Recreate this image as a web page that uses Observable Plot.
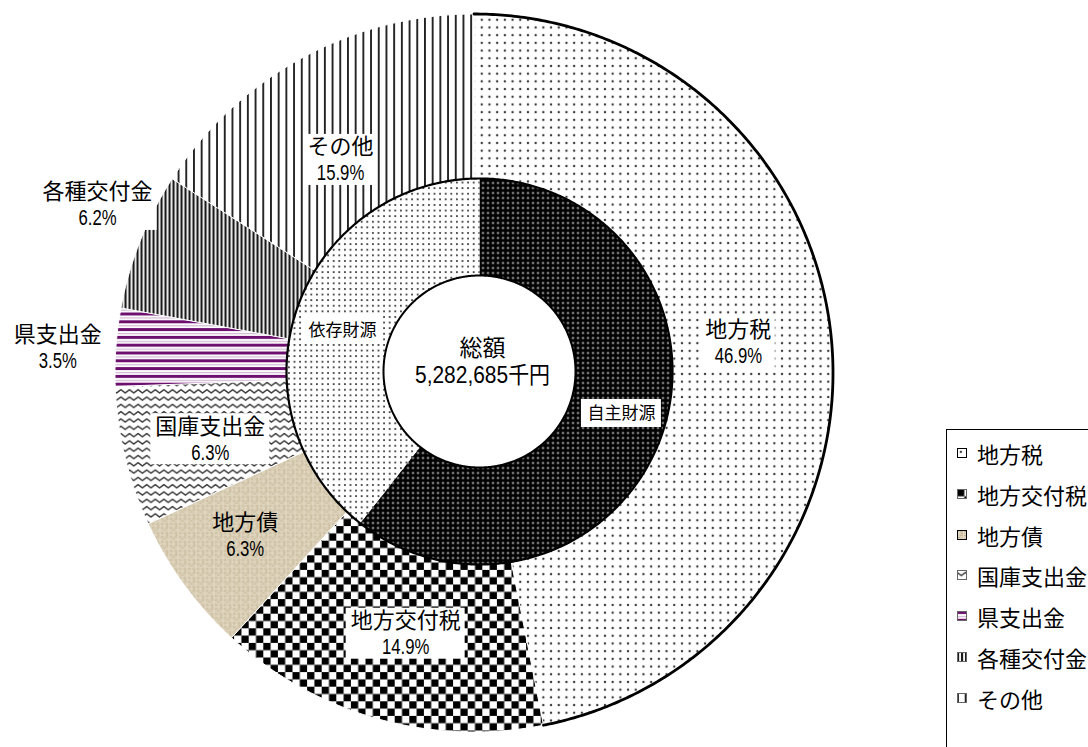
<!DOCTYPE html>
<html><head><meta charset="utf-8">
<script src="https://cdn.jsdelivr.net/npm/d3@7"></script>
<script src="https://cdn.jsdelivr.net/npm/@observablehq/plot@0.6"></script>
<style>
html,body{margin:0;padding:0;background:#fff;}
body{width:1088px;height:747px;overflow:hidden;position:relative;}
#chart{position:absolute;left:0;top:0;}
#legend{position:absolute;left:946px;top:429px;width:240px;height:400px;border:1px solid #000;background:#fff;box-sizing:border-box;}
.item{position:absolute;left:10px;height:26px;display:flex;align-items:center;font-family:"Noto Sans CJK JP",sans-serif;font-size:22px;color:#000;white-space:nowrap;}
.item svg{margin-right:10px;}
</style></head>
<body><div id="chart"></div><div id="legend"></div>
<script>
// ---- data ----
const categories = ["地方税","地方交付税","地方債","国庫支出金","県支出金","各種交付金","その他"];
const shares = [46.9, 14.9, 6.3, 6.3, 3.5, 6.2, 15.9];
const groups = ["自主財源","依存財源"];
const groupShares = [60.6, 39.4];
const centerTitle = "総額";
const centerValue = "5,282,685千円";

// ---- layout ----
const W = 1088, H = 747;
const OC = {x: 473.5, y: 372.5}, R = 359;
const IC = {x: 479, y: 371}, RI = 193, RH = 96;
const patterns = ["p-chihozei","p-kofuzei","p-chihosai","p-kokko","p-ken","p-kakushu","p-sonota"];
const groupPatterns = ["p-jishu","p-izon"];
const outerLabelR = [266, 270, 281, 272, 417, 412, 251];
const outerLabelDA = [-0.8, -1.0, 0.7, -0.7, -0.7, 2.4, -3.5];
const outerBoxed = [true, true, false, true, false, true, true];
const innerLabelR = [148, 143];
const innerLabelDA = [-2.6, -2.4];
const JP = '"Noto Sans CJK JP", sans-serif';
const NUM = '"Liberation Sans", "Noto Sans CJK JP", sans-serif';
const PCT_SIZE = 22, PCT_SQUEEZE = 0.76, CENTER_SQUEEZE = 0.91;
const rad = d => d * Math.PI / 180;

const pie = d3.pie().sort(null).startAngle(0).endAngle(2 * Math.PI);
const arcsO = pie(shares);
const arcsI = pie(groupShares);

function pt(c, r, a) { return {x: c.x + r * Math.sin(a), y: c.y - r * Math.cos(a)}; }
function arcPts(c, r, a0, a1) {
  const n = Math.max(2, Math.ceil(Math.abs(a1 - a0) / (Math.PI / 360)));
  return d3.range(n + 1).map(i => pt(c, r, a0 + (a1 - a0) * i / n));
}

const outerPoly = arcsO.flatMap((a, i) =>
  [pt(OC, 0, 0), ...arcPts(OC, R, a.startAngle, a.endAngle)]
    .map(p => ({...p, key: categories[i], pat: `url(#${patterns[i]})`})));
const innerPoly = arcsI.flatMap((a, i) =>
  [...arcPts(IC, RI, a.startAngle, a.endAngle), ...arcPts(IC, RH, a.endAngle, a.startAngle)]
    .map(p => ({...p, key: groups[i], pat: `url(#${groupPatterns[i]})`})));
const taxArc = arcPts(OC, R, arcsO[0].startAngle, arcsO[0].endAngle);
const ringCircle = arcPts(IC, RI, 0, 2 * Math.PI);
const holeCircle = arcPts(IC, RH, 0, 2 * Math.PI);

// text measurement
const ctx = document.createElement("canvas").getContext("2d");
function tw(s, font, ls) { ctx.font = font; return ctx.measureText(s).width + ls * s.length; }

// label positions
const outerLabels = arcsO.map((a, i) => {
  const p = pt(OC, outerLabelR[i], (a.startAngle + a.endAngle) / 2 + rad(outerLabelDA[i]));
  return {...p, name: categories[i], pct: shares[i].toFixed(1) + "%", boxed: outerBoxed[i]};
});
const innerLabels = arcsI.map((a, i) => {
  const p = pt(IC, innerLabelR[i], (a.startAngle + a.endAngle) / 2 + rad(innerLabelDA[i]));
  return {...p, name: groups[i]};
});
const cx = IC.x + 3;
const centerTitleD = [{x: cx, y: IC.y - 23, t: centerTitle}];
const centerValueD = [{x: cx, y: IC.y + 4, t: centerValue}];

const outerBoxes = outerLabels.filter(d => d.boxed).map(d => {
  const w = Math.max(tw(d.name, `22px ${JP}`, 0.6), tw(d.pct, `${PCT_SIZE}px ${NUM}`, 0) * PCT_SQUEEZE) + 6;
  return {x1: d.x - w / 2, x2: d.x + w / 2, y1: d.y - 26, y2: d.y + 25};
});
const innerBoxes = innerLabels.map(d => {
  const w = tw(d.name, `17px ${JP}`, 1.5) + 6;
  return {x1: d.x - w / 2, x2: d.x + w / 2, y1: d.y - 14, y2: d.y + 14};
});

const svg = Plot.plot({
  width: W, height: H, margin: 0,
  x: {domain: [0, W], range: [0, W], axis: null},
  y: {domain: [0, H], range: [0, H], axis: null},
  color: {type: "identity"},
  marks: [
    Plot.line(outerPoly, {x: "x", y: "y", z: "key", fill: "pat", stroke: "white", strokeWidth: 1, curve: "linear-closed"}),
    Plot.line(taxArc, {x: "x", y: "y", stroke: "black", strokeWidth: 2.8}),
    Plot.line(innerPoly, {x: "x", y: "y", z: "key", fill: "pat", stroke: "none", curve: "linear-closed"}),
    Plot.line(ringCircle, {x: "x", y: "y", stroke: "black", strokeWidth: 2.2, curve: "linear-closed"}),
    Plot.line(holeCircle, {x: "x", y: "y", fill: "white", stroke: "black", strokeWidth: 2, curve: "linear-closed"}),
    Plot.rect(outerBoxes, {x1: "x1", x2: "x2", y1: "y1", y2: "y2", fill: "white"}),
    Plot.rect(innerBoxes, {x1: "x1", x2: "x2", y1: "y1", y2: "y2", fill: "white"}),
    Plot.text(outerLabels, {x: "x", y: "y", text: "name", dy: -13, fontSize: 22, fontFamily: JP, fill: "black", letterSpacing: 0.6}),
    Plot.text(outerLabels, {x: "x", y: "y", text: "pct", dy: 13, fontSize: PCT_SIZE, fontFamily: NUM, fill: "black"}),
    Plot.text(innerLabels, {x: "x", y: "y", text: "name", fontSize: 17, fontFamily: JP, fill: "black", letterSpacing: 1.5}),
    Plot.text(centerTitleD, {x: "x", y: "y", text: "t", fontSize: 23, fontFamily: JP, fill: "black"}),
    Plot.text(centerValueD, {x: "x", y: "y", text: "t", fontSize: 23, fontFamily: NUM, fill: "black"})
  ]
});

// patterns
const defsHTML = `
<pattern id="p-chihozei" patternUnits="userSpaceOnUse" width="7.7" height="7.7">
  <rect width="7.7" height="7.7" fill="#fff"/><circle cx="3.85" cy="3.85" r="1.2" fill="#3a3a3a"/></pattern>
<pattern id="p-jishu" patternUnits="userSpaceOnUse" width="5" height="5">
  <rect width="5" height="5" fill="#000"/><circle cx="2.5" cy="2.5" r="1" fill="#e8e8e8"/></pattern>
<pattern id="p-izon" patternUnits="userSpaceOnUse" width="5.6" height="5.6">
  <rect width="5.6" height="5.6" fill="#fff"/><circle cx="2.8" cy="2.8" r="1.05" fill="#333"/></pattern>
<pattern id="p-kofuzei" patternUnits="userSpaceOnUse" width="14.6" height="14.6">
  <rect width="14.6" height="14.6" fill="#fff"/><rect width="7.3" height="7.3" fill="#000"/><rect x="7.3" y="7.3" width="7.3" height="7.3" fill="#000"/></pattern>
<pattern id="p-chihosai" patternUnits="userSpaceOnUse" width="9" height="9">
  <rect width="9" height="9" fill="#dacfb6"/>
  <path d="M0,1.5H9M0,5.5H9" stroke="#c6b796" stroke-width="0.9"/>
  <path d="M2,0V9M6.5,0V9" stroke="#e9e1cf" stroke-width="0.8"/>
  <path d="M4,3.5h2M1,7.5h2" stroke="#b8a784" stroke-width="0.8"/></pattern>
<pattern id="p-kokko" patternUnits="userSpaceOnUse" width="8.6" height="7.3">
  <rect width="8.6" height="7.3" fill="#fff"/><path d="M-0.2,2.2L4.3,5.6L8.8,2.2" fill="none" stroke="#333" stroke-width="1.4"/></pattern>
<pattern id="p-ken" patternUnits="userSpaceOnUse" width="4" height="7.8">
  <rect width="4" height="7.8" fill="#fff"/><rect width="4" height="3" fill="#6c0f6e"/><rect y="5" width="4" height="1.1" fill="#cdb0d0"/></pattern>
<pattern id="p-kakushu" patternUnits="userSpaceOnUse" width="4" height="4">
  <rect width="4" height="4" fill="#f4f4f4"/><rect width="2.1" height="4" fill="#1a1a1a"/></pattern>
<pattern id="p-sonota" patternUnits="userSpaceOnUse" width="7.7" height="4">
  <rect width="7.7" height="4" fill="#fff"/><rect width="1.9" height="4" fill="#222"/></pattern>`;
const defs = document.createElementNS("http://www.w3.org/2000/svg", "defs");
defs.innerHTML = defsHTML;
svg.insertBefore(defs, svg.firstChild);
document.getElementById("chart").appendChild(svg);

// narrow digits (half-width look), matched by content
const pctTexts = new Set(outerLabels.map(d => d.pct));
svg.querySelectorAll("text").forEach(el => {
  const s = el.textContent;
  let k = null;
  if (pctTexts.has(s)) k = PCT_SQUEEZE;
  else if (s === centerValue) k = CENTER_SQUEEZE;
  if (k) {
    const w = el.getComputedTextLength();
    el.setAttribute("textLength", (w * k).toFixed(2));
    el.setAttribute("lengthAdjust", "spacingAndGlyphs");
  }
});

// legend
const legend = d3.select("#legend");
categories.forEach((c, i) => {
  const item = legend.append("div").attr("class", "item").style("top", `${10 + i * 40.8}px`);
  const s = item.append("svg").attr("width", 10).attr("height", 10);
  s.append("rect").attr("x", 0.5).attr("y", 0.5).attr("width", 9).attr("height", 9)
    .attr("fill", `url(#${patterns[i]})`).attr("stroke", i === 0 || i === 2 ? "#000" : "#666").attr("stroke-width", 1);
  item.append("span").text(c);
});
</script>
</body></html>
